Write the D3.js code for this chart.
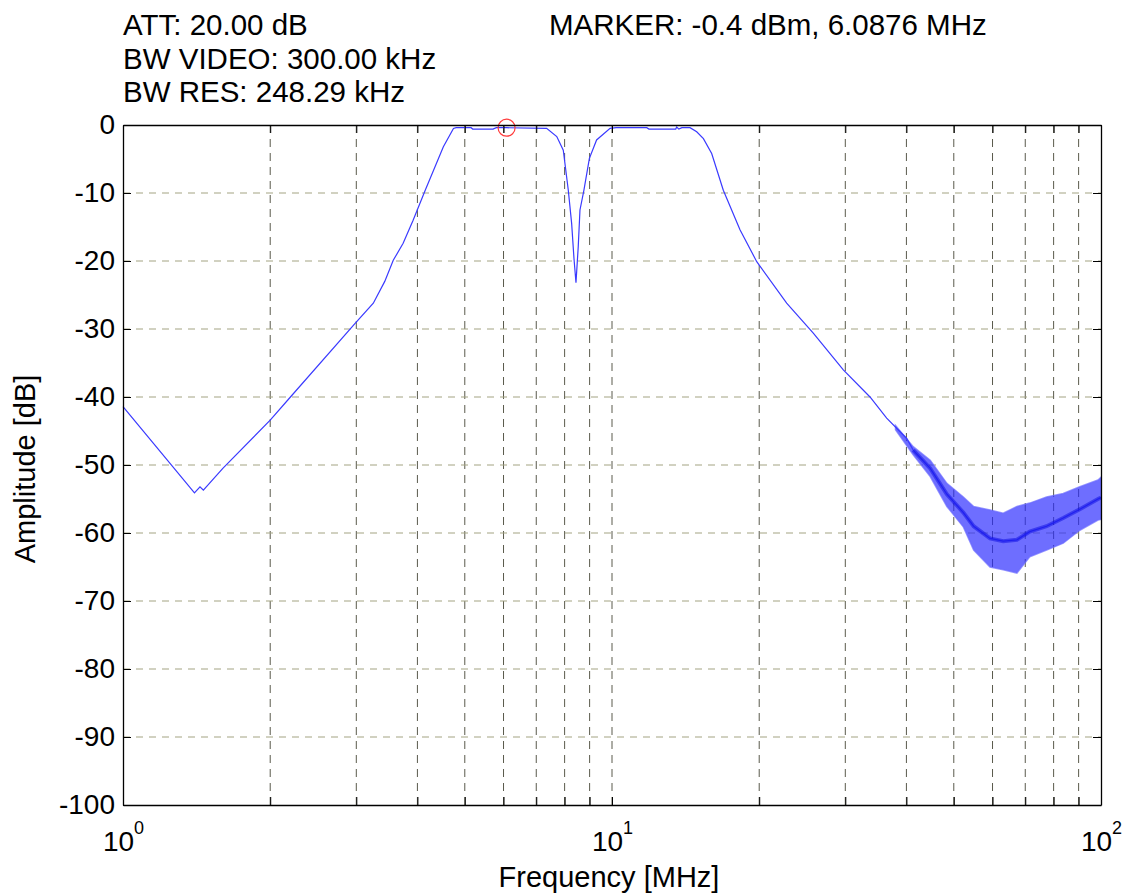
<!DOCTYPE html>
<html lang="en">
<head>
    <meta charset="UTF-8">
    <script src="https://cdnjs.cloudflare.com/ajax/libs/d3/7.8.5/d3.min.js"></script>
    <title>Amplitude vs frequency</title>
    <style>
        html, body {
            margin: 0;
            padding: 0;
            background: #ffffff;
        }

        svg {
            display: block;
            font-family: "Liberation Sans", Arial, sans-serif;
        }

        .info-text {
            fill: #000;
            font-size: 29.5px;
        }

        .axis text {
            fill: #000;
            font-size: 28px;
        }

        .axis-title {
            fill: #000;
            font-size: 29px;
        }
    </style>
</head>
<body>
    <script>
        // trace (MHz, dB)
        const freqMHz = [
            1.00, 1.40, 1.437, 1.46, 1.60, 2.00, 2.20, 2.98, 3.25, 3.43, 3.57, 3.74, 3.92, 4.15, 4.52, 4.74, 4.80,
            5.15, 5.19, 5.71, 5.80, 6.09, 7.35, 7.71, 7.95, 8.14, 8.27, 8.36, 8.44, 8.53, 8.60, 8.76, 8.99,
            9.30, 9.91, 10.2, 11.78, 11.9, 13.5, 13.56, 13.7, 13.9, 14.44, 14.9, 15.38, 15.99, 16.89, 18.27,
            19.77, 22.76, 25.80, 29.72, 33.7, 36.45, 40.06, 41.3, 44.75, 48.4, 52.3, 54.9, 59.3, 63.1, 67.3,
            71.5, 77.4, 83.7, 90.5, 98.6, 100
        ];
        const ampDb = [
            -41.4, -54.1, -53.2, -53.7, -50.5, -43.4, -40.0, -29.2, -26.2, -23.0, -19.9, -17.4, -14.0, -9.6, -3.2, -0.5, -0.4,
            -0.4, -0.6, -0.6, -0.4, -0.4, -0.5, -1.7, -3.7, -9.6, -14.5, -19.6, -23.2, -17.9, -12.5, -9.6, -4.9,
            -2.2, -0.5, -0.4, -0.4, -0.6, -0.6, -0.3, -0.6, -0.4, -0.4, -1.0, -2.0, -4.2, -9.6, -15.4,
            -20.1, -26.2, -30.6, -36.0, -40.0, -43.1, -46.1, -47.8, -50.5, -54.3, -57.0, -59.0, -60.8, -61.2, -61.0,
            -59.8, -59.0, -57.8, -56.5, -55.0, -54.8
        ];

        // spread of the noisy floor
        const noiseFreqMHz = [38, 41.3, 44.75, 48.4, 52.3, 54.9, 59.3, 63.1, 67.3, 71.5, 77.4, 83.7, 90.5, 98.6, 100];
        const noiseLowDb =   [-44.8, -48.5, -51.7, -56.1, -59.1, -62.5, -65.0, -65.4, -65.9, -63.5, -62.5, -61.5, -59.6, -58.1, -58.0];
        const noiseHighDb =  [-44.2, -47.3, -49.3, -52.7, -54.7, -56.1, -56.6, -57.1, -56.1, -55.6, -54.7, -54.2, -53.2, -52.2, -51.8];

        const markerFreq = 6.0876;
        const markerAmp = -0.4;

        const xTickValues = [1, 2, 3, 4, 5, 6, 7, 8, 9, 10, 20, 30, 40, 50, 60, 70, 80, 90, 100];
        const xMajorTicks = [1, 10, 100];
        const xTickExponents = ['0', '1', '2'];
        const yTickValues = [0, -10, -20, -30, -40, -50, -60, -70, -80, -90, -100];

        const infoLeft = ['ATT: 20.00 dB', 'BW VIDEO: 300.00 kHz', 'BW RES: 248.29 kHz'];
        const infoRight = 'MARKER: -0.4 dBm, 6.0876 MHz';
        const xTitle = 'Frequency [MHz]';
        const yTitle = 'Amplitude [dB]';

        const width = 1126;
        const height = 894;
        const marginTop = 125;
        const marginRight = 25;
        const marginBottom = 89;
        const marginLeft = 123;
        const tickLen = 8;

        const chartWidth = width - marginLeft - marginRight;
        const chartHeight = height - marginTop - marginBottom;

        const svg = d3.select('body').append('svg')
            .attr('width', width)
            .attr('height', height);

        svg.append('rect')
            .attr('width', width)
            .attr('height', height)
            .attr('fill', '#fff');

        // text block above the plot
        svg.selectAll('.info-left')
            .data(infoLeft)
            .enter()
            .append('text')
            .attr('class', 'info-text')
            .attr('x', marginLeft)
            .attr('y', function(d, i) { return 35 + i * 33.5; })
            .text(function(d) { return d; });

        svg.append('text')
            .attr('class', 'info-text')
            .attr('x', 549)
            .attr('y', 35)
            .text(infoRight);

        const x = d3.scaleLog()
            .domain([1, 100])
            .range([0, chartWidth]);

        const y = d3.scaleLinear()
            .domain([-100, 0])
            .range([chartHeight, 0]);

        const plot = svg.append('g')
            .attr('transform', 'translate(' + marginLeft + ',' + marginTop + ')');

        // сетка
        const grid = plot.append('g').attr('class', 'grid');

        grid.selectAll('.grid-x')
            .data(xTickValues.filter(function(d) { return d > 1 && d < 100; }))
            .enter()
            .append('line')
            .attr('x1', function(d) { return x(d); })
            .attr('x2', function(d) { return x(d); })
            .attr('y1', 0)
            .attr('y2', chartHeight)
            .attr('stroke', '#5a5a4c')
            .attr('stroke-dasharray', '8,6');

        grid.selectAll('.grid-y')
            .data(yTickValues.filter(function(d) { return d < 0 && d > -100; }))
            .enter()
            .append('line')
            .attr('x1', 0)
            .attr('x2', chartWidth)
            .attr('y1', function(d) { return y(d); })
            .attr('y2', function(d) { return y(d); })
            .attr('stroke', '#a3a382')
            .attr('stroke-dasharray', '7,6');

        // noise floor band
        const band = d3.area()
            .x(function(d) { return x(d.f); })
            .y0(function(d) { return y(d.lo); })
            .y1(function(d) { return y(d.hi); });

        const bandData = noiseFreqMHz.map(function(f, i) {
            return { f: f, lo: noiseLowDb[i], hi: noiseHighDb[i] };
        });

        plot.append('path')
            .datum(bandData)
            .attr('d', band)
            .attr('fill', '#2a2aff')
            .attr('fill-opacity', 0.68)
            .attr('stroke', '#6a6aff')
            .attr('stroke-opacity', 0.7)
            .attr('stroke-width', 1.5);

        // trace
        const line = d3.line()
            .x(function(d) { return x(d.f); })
            .y(function(d) { return y(d.a); });

        const traceData = freqMHz.map(function(f, i) { return { f: f, a: ampDb[i] }; });

        plot.append('path')
            .datum(traceData)
            .attr('d', line)
            .attr('fill', 'none')
            .attr('stroke', '#3a3aff')
            .attr('stroke-width', 1.2);

        // denser core over the noise floor
        plot.append('path')
            .datum(traceData.filter(function(d) { return d.f >= 41; }))
            .attr('d', line)
            .attr('fill', 'none')
            .attr('stroke', '#0000dd')
            .attr('stroke-width', 4)
            .attr('stroke-opacity', 0.45);

        // marker
        plot.append('circle')
            .attr('cx', x(markerFreq))
            .attr('cy', y(markerAmp))
            .attr('r', 8.5)
            .attr('fill', 'none')
            .attr('stroke', '#ff3b3b')
            .attr('stroke-width', 1.2);

        // оси
        const xBottom = d3.axisBottom(x)
            .tickValues(xTickValues)
            .tickSizeInner(-tickLen)
            .tickSizeOuter(0)
            .tickFormat(function(d) { return xMajorTicks.indexOf(d) >= 0 ? '10' : ''; });

        const gx = plot.append('g')
            .attr('class', 'axis axis--x')
            .attr('transform', 'translate(0,' + chartHeight + ')')
            .call(xBottom);

        gx.selectAll('text')
            .attr('y', 46)
            .attr('dy', 0)
            .attr('font-size', '29px')
            .each(function(d) {
                const idx = xMajorTicks.indexOf(d);
                if (idx < 0) return;
                const t = d3.select(this).text('');
                t.append('tspan').text('10');
                t.append('tspan')
                    .attr('dy', -17)
                    .attr('font-size', '18px')
                    .text(xTickExponents[idx]);
            });

        plot.append('g')
            .attr('class', 'axis')
            .call(d3.axisTop(x)
                .tickValues(xTickValues)
                .tickSizeInner(-tickLen)
                .tickSizeOuter(0)
                .tickFormat(''));

        plot.append('g')
            .attr('class', 'axis axis--y')
            .call(d3.axisLeft(y)
                .tickValues(yTickValues)
                .tickSizeInner(-tickLen)
                .tickSizeOuter(0)
                .tickPadding(8)
                .tickFormat(function(d) { return String(d); }));

        plot.append('g')
            .attr('class', 'axis')
            .attr('transform', 'translate(' + chartWidth + ',0)')
            .call(d3.axisRight(y)
                .tickValues(yTickValues)
                .tickSizeInner(-tickLen)
                .tickSizeOuter(0)
                .tickFormat(''));

        plot.selectAll('.axis .domain').attr('stroke', '#000').attr('stroke-width', 1.3);
        plot.selectAll('.axis .tick line').attr('stroke', '#000');

        // подписи осей
        svg.append('text')
            .attr('class', 'axis-title')
            .attr('text-anchor', 'middle')
            .attr('x', marginLeft + chartWidth / 2 - 3)
            .attr('y', 887)
            .text(xTitle);

        svg.append('text')
            .attr('class', 'axis-title')
            .attr('text-anchor', 'middle')
            .attr('transform', 'translate(35,' + 469 + ') rotate(-90)')
            .text(yTitle);
    </script>
</body>
</html>
